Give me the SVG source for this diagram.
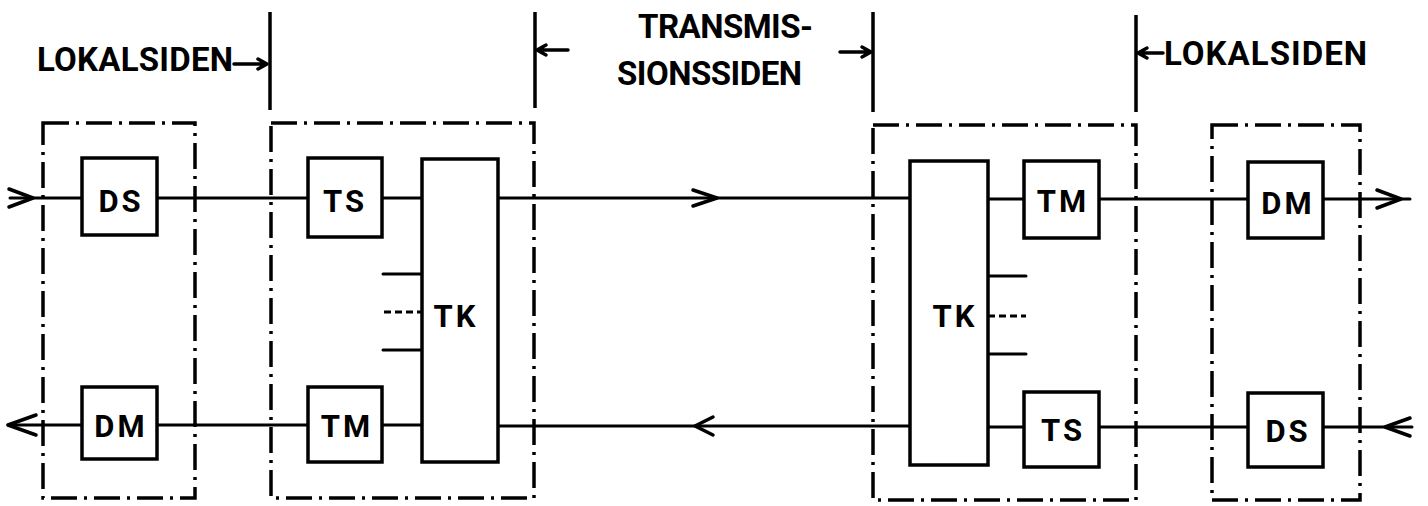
<svg xmlns="http://www.w3.org/2000/svg" width="1428" height="506" viewBox="0 0 1428 506">
<style>
.bg{fill:#fff}
.frame{fill:none;stroke:#000;stroke-width:3.5;stroke-dasharray:26 7 3 7}
.box{fill:#fff;stroke:#000;stroke-width:3.5}
.ln{fill:none;stroke:#000;stroke-width:3;stroke-linecap:round;stroke-linejoin:round}
.dash{fill:none;stroke:#000;stroke-width:3;stroke-dasharray:7 4}
.head{fill:none;stroke:#000;stroke-width:3.5;stroke-linecap:round;stroke-linejoin:round}
.bd{fill:none;stroke:#000;stroke-width:3.5}
.lbl{font-family:Roboto,"Liberation Sans",Arial,sans-serif;font-weight:bold;font-size:31px;fill:#000;text-anchor:middle;letter-spacing:3px}
.top{font-family:Roboto,"Liberation Sans",Arial,sans-serif;font-weight:bold;font-size:33px;fill:#000}
</style>
<rect class="bg" x="0" y="0" width="1428" height="506"/>

<g id="boundaries">
  <line class="bd" x1="270" y1="12" x2="270" y2="110"/>
  <line class="bd" x1="535" y1="12" x2="535" y2="108"/>
  <line class="bd" x1="873" y1="12" x2="873" y2="112"/>
  <line class="bd" x1="1136" y1="15" x2="1136" y2="112"/>
  <path class="head" d="M234 64 H266 M258 59 L267 64 L258 69"/>
  <path class="head" d="M568 50 H538 M546 45 L537 50 L546 55"/>
  <path class="head" d="M840 52 H870 M862 47 L871 52 L862 57"/>
  <path class="head" d="M1163 53 H1139 M1147 48 L1138 53 L1147 58"/>
  <text class="top" x="37" y="71" textLength="196" lengthAdjust="spacing">LOKALSIDEN</text>
  <text class="top" x="638" y="38" textLength="175" lengthAdjust="spacing">TRANSMIS-</text>
  <text class="top" x="617" y="85" textLength="185" lengthAdjust="spacing">SIONSSIDEN</text>
  <text class="top" x="1164" y="65" textLength="203" lengthAdjust="spacing">LOKALSIDEN</text>
</g>

<g id="connectors">
  <!-- upper path, left to right -->
  <line class="ln" x1="10" y1="198" x2="82" y2="198"/>
  <path class="head" d="M9 189 L33 198 L9 207"/>
  <line class="ln" x1="157" y1="198" x2="308" y2="198"/>
  <line class="ln" x1="382" y1="198" x2="422" y2="198"/>
  <line class="ln" x1="498" y1="198" x2="910" y2="198"/>
  <path class="head" d="M693 190 L717 198 L693 206"/>
  <line class="ln" x1="988" y1="199" x2="1024" y2="199"/>
  <line class="ln" x1="1099" y1="199" x2="1248" y2="199"/>
  <line class="ln" x1="1323" y1="199" x2="1410" y2="199"/>
  <path class="head" d="M1377 190 L1401 199 L1377 208"/>
  <!-- lower path, right to left -->
  <line class="ln" x1="1412" y1="427" x2="1323" y2="427"/>
  <path class="head" d="M1410 418 L1385 427 L1410 436"/>
  <line class="ln" x1="1248" y1="427" x2="1099" y2="427"/>
  <line class="ln" x1="1024" y1="427" x2="988" y2="427"/>
  <line class="ln" x1="910" y1="426" x2="498" y2="426"/>
  <path class="head" d="M713 417 L695 426 L713 435"/>
  <line class="ln" x1="422" y1="425" x2="382" y2="425"/>
  <line class="ln" x1="308" y1="425" x2="157" y2="425"/>
  <line class="ln" x1="82" y1="425" x2="8" y2="425"/>
  <path class="head" d="M36 415 L8 425 L36 435"/>
  <!-- TK side stubs -->
  <line class="ln" x1="383" y1="274" x2="422" y2="274"/>
  <line class="dash" x1="384" y1="312" x2="422" y2="312"/>
  <line class="ln" x1="383" y1="350" x2="422" y2="350"/>
  <line class="ln" x1="988" y1="276" x2="1026" y2="276"/>
  <line class="dash" x1="988" y1="316" x2="1026" y2="316"/>
  <line class="ln" x1="988" y1="354" x2="1026" y2="354"/>
</g>

<g id="frame-local-left"><rect class="frame" x="43" y="123" width="152" height="375"/></g>
<g id="frame-exchange-left"><rect class="frame" x="271" y="123" width="263" height="375"/></g>
<g id="frame-exchange-right"><rect class="frame" x="873" y="125" width="263" height="375"/></g>
<g id="frame-local-right"><rect class="frame" x="1212" y="125" width="148" height="375"/></g>

<g id="node-ds-left"><rect class="box" x="82" y="158" width="75" height="77"/><text class="lbl" x="121" y="212">DS</text></g>
<g id="node-dm-left"><rect class="box" x="82" y="387" width="75" height="72"/><text class="lbl" x="121" y="437">DM</text></g>
<g id="node-ts-left"><rect class="box" x="308" y="158" width="74" height="79"/><text class="lbl" x="345" y="212">TS</text></g>
<g id="node-tm-left"><rect class="box" x="308" y="387" width="74" height="75"/><text class="lbl" x="347" y="437">TM</text></g>
<g id="node-tk-left"><rect class="box" x="422" y="159" width="76" height="303"/><text class="lbl" x="456" y="327">TK</text></g>

<g id="node-tk-right"><rect class="box" x="910" y="161" width="78" height="304"/><text class="lbl" x="955" y="327">TK</text></g>
<g id="node-tm-right"><rect class="box" x="1024" y="161" width="75" height="77"/><text class="lbl" x="1063" y="212">TM</text></g>
<g id="node-ts-right"><rect class="box" x="1024" y="392" width="75" height="75"/><text class="lbl" x="1063" y="441">TS</text></g>
<g id="node-dm-right"><rect class="box" x="1248" y="162" width="75" height="76"/><text class="lbl" x="1288" y="214">DM</text></g>
<g id="node-ds-right"><rect class="box" x="1248" y="393" width="75" height="74"/><text class="lbl" x="1288" y="442">DS</text></g>
</svg>
